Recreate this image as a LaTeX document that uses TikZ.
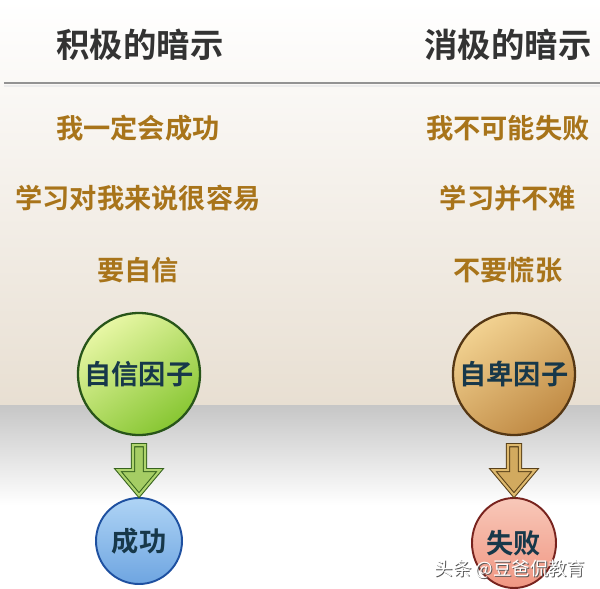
\documentclass[tikz,border=0pt]{standalone}
\usepackage{fontspec}
\setmainfont{Noto Sans CJK SC}[BoldFont={Noto Sans CJK SC Bold}]
\usetikzlibrary{calc,shapes.geometric,shapes.arrows,shadings}

\definecolor{titlegray}{HTML}{333333}
\definecolor{hintorange}{HTML}{A8741A}
\definecolor{beige}{HTML}{E8DFD2}
\definecolor{bandgray}{HTML}{C6C6C6}
\definecolor{inktext}{HTML}{17384A}

\tikzset{
  title/.style={font=\bfseries\fontsize{19}{21}\selectfont, text=titlegray},
  hint/.style={font=\bfseries\fontsize{15.5}{18}\selectfont, text=hintorange},
  factor/.style={circle, minimum size=122*0.02cm, line width=1.3pt,
    font=\bfseries\fontsize{15.5}{18}\selectfont, text=inktext, inner sep=0pt},
  result/.style={circle, minimum size=86*0.02cm, line width=1.1pt,
    font=\bfseries\fontsize{15.5}{18}\selectfont, text=inktext, inner sep=0pt},
  downarrow/.style={single arrow, shape border rotate=270, minimum height=50*0.02cm,
    single arrow head extend=0.3cm, single arrow tip angle=80, inner sep=0.11cm,
    line width=0.6pt, double distance=1.2pt}
}

\begin{document}
\begin{tikzpicture}[x=0.02cm, y=-0.02cm]

  % background
  \useasboundingbox (0,0) rectangle (600,589);
  \shade[top color=white, bottom color=beige] (0,0) rectangle (600,405);
  \shade[top color=bandgray, bottom color=white] (0,405) rectangle (600,505);
  \fill[white] (0,505) rectangle (600,589);

  % header
  \node[title] (pos) at (140,45) {积极的暗示};
  \node[title] (neg) at (508,45) {消极的暗示};
  \draw[line width=1.2pt, gray!85] (4,83) -- (600,83);
  \draw[line width=1pt, white!85!gray] (4,86) -- (600,86);

  % positive hints
  \node[hint] (p1) at (138,128) {我一定会成功};
  \node[hint] (p2) at (138,198) {学习对我来说很容易};
  \node[hint] (p3) at (138,270) {要自信};

  % negative hints
  \node[hint] (n1) at (508,128) {我不可能失败};
  \node[hint] (n2) at (508,198) {学习并不难};
  \node[hint] (n3) at (508,270) {不要慌张};

  % factors
  \node[factor, draw={rgb,255:red,40;green,85;blue,25},
    top color={rgb,255:red,232;green,247;blue,165},
    bottom color={rgb,255:red,135;green,198;blue,50}, shading angle=35] (conf) at (139,374) {自信因子};
  \node[factor, draw={rgb,255:red,85;green,55;blue,20},
    top color={rgb,255:red,242;green,210;blue,145},
    bottom color={rgb,255:red,192;green,138;blue,68}, shading angle=35] (infer) at (514,374) {自卑因子};

  % results
  \node[result, draw={rgb,255:red,30;green,80;blue,160},
    top color={rgb,255:red,175;green,212;blue,245},
    bottom color={rgb,255:red,110;green,165;blue,225}] (win) at (139,541) {成功};
  \node[result, ellipse, minimum width=84*0.02cm, minimum height=90*0.02cm,
    draw={rgb,255:red,120;green,35;blue,30},
    top color={rgb,255:red,248;green,200;blue,185},
    bottom color={rgb,255:red,240;green,150;blue,130}] (lose) at (514,543) {失败};

  % arrows
  \node[downarrow, draw={rgb,255:red,55;green,100;blue,30},
    double={rgb,255:red,175;green,212;blue,110},
    fill={rgb,255:red,165;green,205;blue,100}]
    (up) at ($(conf.south)!0.5!(win.north)$) {};
  \node[downarrow, draw={rgb,255:red,90;green,65;blue,25},
    double={rgb,255:red,222;green,185;blue,110},
    fill={rgb,255:red,210;green,170;blue,95}]
    (down) at ($(infer.south)!0.5!(lose.north)$) {};

  % watermark
  \node[font=\fontsize{10.5}{12}\selectfont, text=gray!70!black] at (511,570) {头条 @豆爸侃教育};
  \node[font=\fontsize{10.5}{12}\selectfont, text=white] (mark) at (510,569) {头条 @豆爸侃教育};

\end{tikzpicture}
\end{document}
